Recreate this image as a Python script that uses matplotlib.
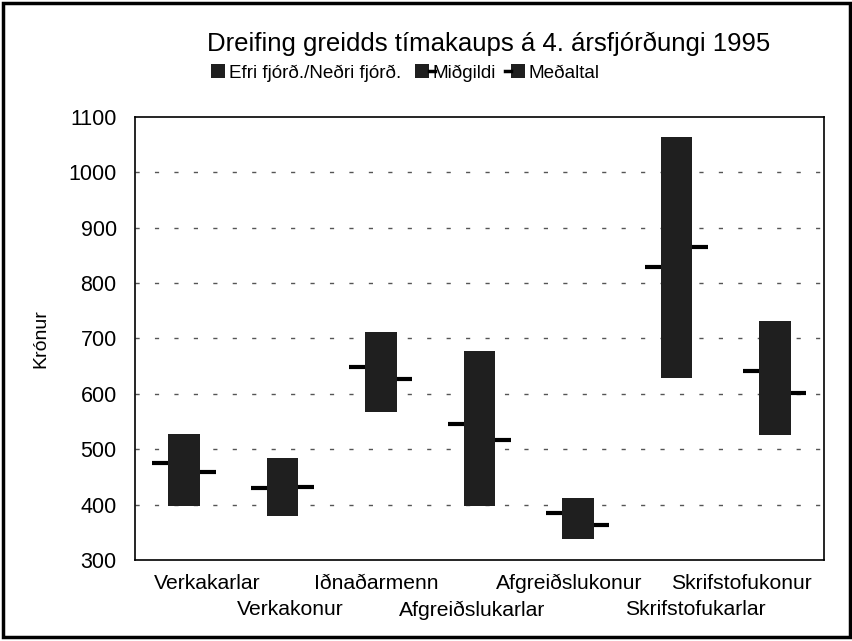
# Dreifing greidds tímakaups - box style chart with mean / median ticks
import numpy as np
import matplotlib.pyplot as plt
from matplotlib.patches import Rectangle
from matplotlib.lines import Line2D
from matplotlib.legend_handler import HandlerBase

plt.rcParams['font.family'] = ['Liberation Sans', 'DejaVu Sans']

categories = ['Verkakarlar', 'Verkakonur', 'Iðnaðarmenn', 'Afgreiðslukarlar',
              'Afgreiðslukonur', 'Skrifstofukarlar', 'Skrifstofukonur']
lower_q = [398, 379, 568, 398, 337, 628, 525]   # neðri fjórðungur
upper_q = [527, 485, 712, 678, 412, 1064, 731]  # efri fjórðungur
median = [459, 432, 627, 517, 363, 865, 601]    # miðgildi
mean = [475, 430, 648, 545, 385, 829, 641]      # meðaltal

# horizontal shift of each category label (Excel staggered them oddly)
label_shift = [0.24, 0.08, -0.05, -0.07, -0.09, 0.19, -0.34]

bar_col = '#1f1f1f'
bw = 0.32
tick_len = 0.16

fig = plt.figure(figsize=(8.53, 6.41), dpi=100)
ax = fig.add_axes([0.158, 0.1264, 0.808, 0.6911])

x = np.arange(len(categories)) + 0.5
lo = np.array(lower_q)
hi = np.array(upper_q)
ax.bar(x, hi - lo, bottom=lo, width=bw, color=bar_col, zorder=3)
ax.hlines(mean, x - bw / 2 - tick_len, x - bw / 2, color='black', lw=3, zorder=4)
ax.hlines(median, x + bw / 2, x + bw / 2 + tick_len, color='black', lw=3, zorder=4)

ax.set_xlim(0, len(categories))
ax.set_ylim(300, 1100)
ax.set_yticks(range(300, 1101, 100))
for v in range(400, 1001, 100):
    ax.axhline(v, color='#555555', lw=1, ls=(0, (3, 11)), zorder=1)

# staggered category labels: odd ones on the major ticks, even ones on minor ticks
lx = x + np.array(label_shift)
ax.set_xticks(lx[0::2])
ax.set_xticklabels(categories[0::2], fontsize=15.2)
ax.set_xticks(lx[1::2], minor=True)
ax.set_xticklabels(categories[1::2], minor=True, fontsize=15.2)
ax.tick_params(axis='x', which='major', length=0, pad=10)
ax.tick_params(axis='x', which='minor', length=0, pad=29)
ax.tick_params(axis='y', length=0, pad=13, labelsize=15.5)
ax.set_ylabel('Krónur', fontsize=14, labelpad=14)

for s in ax.spines.values():
    s.set_linewidth(1.2)


class BoxTick(HandlerBase):
    def __init__(self, side=None):
        super().__init__()
        self.side = side

    def create_artists(self, legend, orig_handle, xdescent, ydescent,
                       width, height, fontsize, trans):
        s = height
        x0 = -xdescent + (width - s) / 2
        y0 = -ydescent + (height - s) / 2
        arts = [Rectangle((x0, y0), s, s, facecolor=bar_col, edgecolor='none',
                          transform=trans)]
        if self.side == 'right':
            arts.append(Line2D([x0 + s, x0 + s + 4], [y0 + s / 2] * 2,
                               color='black', lw=2.5, transform=trans))
        elif self.side == 'left':
            arts.append(Line2D([x0 - 4, x0], [y0 + s / 2] * 2,
                               color='black', lw=2.5, transform=trans))
        return arts


h1, h2, h3 = object(), object(), object()
fig.legend([h1, h2, h3], ['Efri fjórð./Neðri fjórð.', 'Miðgildi', 'Meðaltal'],
           handler_map={h1: BoxTick(), h2: BoxTick('right'), h3: BoxTick('left')},
           loc='center left', bbox_to_anchor=(0.247, 0.886), ncol=3, frameon=False,
           fontsize=13.6, handlelength=0.75, handleheight=0.75, handletextpad=0.2,
           columnspacing=0.75, borderaxespad=0, borderpad=0)

fig.text(0.573, 0.932, 'Dreifing greidds tímakaups á 4. ársfjórðungi 1995',
         ha='center', va='center', fontsize=18.5)

# frame around the whole picture
fig.patches.append(Rectangle((0.004, 0.006), 0.992, 0.99, transform=fig.transFigure,
                             fill=False, edgecolor='black', lw=2.5))

fig.savefig('out.png', dpi=100)
